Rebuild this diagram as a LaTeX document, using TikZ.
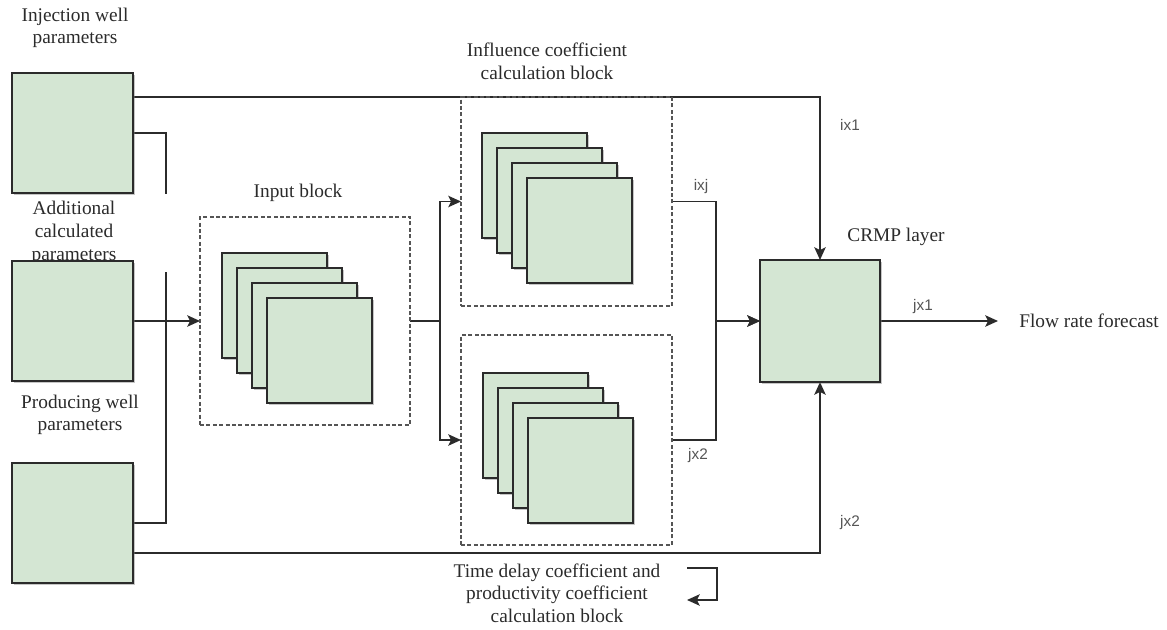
\documentclass[tikz,border=0pt]{standalone}
\usepackage{fontspec}
\setmainfont{Liberation Serif}
\newfontfamily\tagfont{Liberation Sans}
\definecolor{ink}{HTML}{2B2B2B}
\definecolor{muted}{HTML}{555555}
\definecolor{leaf}{HTML}{D4E6D3}
\definecolor{frameg}{HTML}{555555}
\newcommand{\figfontsize}{\fontsize{14.5}{17}\selectfont}
\tikzset{
  every picture/.style = {font=\figfontsize, line join=miter},
  box/.style           = {draw=ink, line width=1.3pt, fill=leaf, inner sep=0pt, outer sep=0pt,
                          drop shadow={shadow xshift=1.8pt, shadow yshift=-1.8pt,
                                       fill=black!50, opacity=.45}},
  wire/.style          = {draw=ink, line width=1.3pt},
  feed/.style          = {-{Stealth[length=9.5pt, width=8.5pt, inset=2pt]}},
}
\usetikzlibrary{arrows.meta, shadows, backgrounds, calc}

\begin{document}
\begin{tikzpicture}[x=0.75pt, y=-0.75pt]
  % pixel grid of the original figure, y grows downwards
  \tikzset{
    well/.style  = {box, minimum width=121*0.75pt, minimum height=120*0.75pt},
    sheet/.style = {box, minimum size=105*0.75pt},
    stage/.style = {draw=frameg, line width=0.9pt, dash pattern=on 3pt off 1.8pt,
                    inner sep=0pt, outer sep=0pt},
    lbl/.style   = {text=ink, align=center, inner sep=0pt},
    tag/.style   = {text=muted, inner sep=0pt, font=\tagfont\fontsize{11.5}{13}\selectfont},
  }
  % four stacked layer sheets, back one first
  % \sheets{name}{x of back sheet}{y of back sheet}
  \newcommand{\sheets}[3]{%
    \foreach \k in {0,...,3}
      \node[sheet] (#1\k) at ({#2+52.5+15*\k}, {#3+52.5+15*\k}) {};
  }
  \useasboundingbox (0,0) rectangle (1167,630);

  % --- source labels (the middle one masks the feedback wire) ---------------
  \node[lbl] (injtxt) at (75,28) {Injection well\\parameters};
  \node[lbl, fill=white, text width=190*0.75pt, inner ysep=6pt] (addtxt)
    at (74,233) {Additional\\calculated\\parameters};
  \node[lbl] (prodtxt) at (80,415) {Producing well\\parameters};

  % --- well parameter blocks ------------------------------------------------
  \node[well] (inj)  at (72.5,133) {};
  \node[well] (addp) at (72.5,321) {};
  \node[well] (prod) at (72.5,523) {};

  % --- processing stages ----------------------------------------------------
  \node[stage, minimum width=210*0.75pt, minimum height=208*0.75pt] (inblk) at (305,321) {};
  \node[stage, minimum width=211*0.75pt, minimum height=209*0.75pt] (infl)  at (566.5,201.5) {};
  \node[stage, minimum width=211*0.75pt, minimum height=210*0.75pt] (tdel)  at (566.5,440) {};
  \sheets{in}{222}{253}
  \sheets{ic}{482}{133}
  \sheets{td}{483}{373}
  \node[lbl] (intxt)  at (298,193) {Input block};
  \node[lbl] (icftxt) at (547,61)  {Influence coefficient\\calculation block};
  \node[lbl] (tdtxt)  at (557,593) {Time delay coefficient and\\productivity coefficient\\calculation block};

  % --- output layer ---------------------------------------------------------
  \node[box, minimum width=120*0.75pt, minimum height=122*0.75pt] (crmp) at (820,321) {};
  \node[lbl] (crmptxt) at (896,237) {CRMP layer};
  \node[lbl, anchor=west] (flow) at (1019,321) {Flow rate forecast};

  % --- signal tags ----------------------------------------------------------
  \node[tag] (ix1)  at (850,125) {ix1};
  \node[tag] (ixj)  at (701,187) {ixj};
  \node[tag] (jx1)  at (923,307) {jx1};
  \node[tag] (jx2a) at (698,456) {jx2};
  \node[tag] (jx2b) at (850,523) {jx2};

  \coordinate (uin)  at (687,568);
  \coordinate (uout) at (687,600);

  % --- wires, kept under the blocks ------------------------------------------
  \begin{scope}[on background layer]
    \draw[wire] (inj.east) -- ++(33,0) |- (prod.east);
    \draw[wire, feed] ($(inj.east)+(0,-36)$) -| (crmp.north);
    \draw[wire, feed] ($(prod.east)+(0,30)$) -| (crmp.south);
    \draw[wire, feed] (addp.east) -- (addp.east -| inblk.west);
    \draw[wire, feed] (inblk.east) -- ++(30,0) |- (infl.west);
    \draw[wire, feed] (inblk.east) -- ++(30,0) |- (tdel.west);
    \draw[wire, feed] (infl.east) -- ++(44,0) |- (crmp.west);
    \draw[wire, feed] (tdel.east) -- ++(44,0) |- (crmp.west);
    \draw[wire, feed, shorten >=21*0.75pt] (crmp.east) -- (flow.west);
    \draw[wire, feed] (uin) -- ++(30,0) |- (uout);
  \end{scope}
\end{tikzpicture}
\end{document}
